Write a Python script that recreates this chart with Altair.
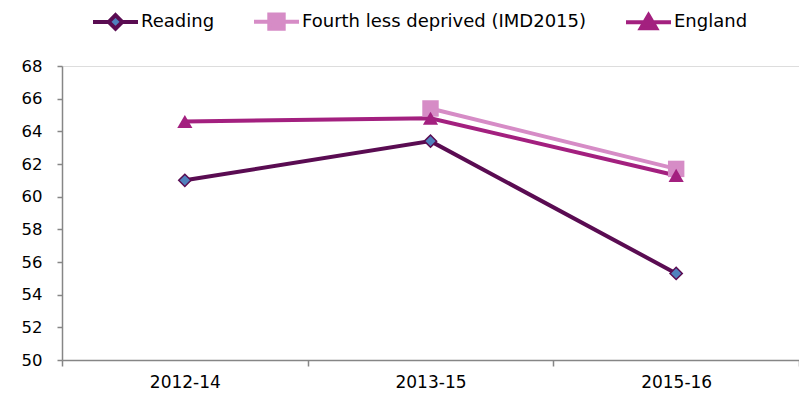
import altair as alt
import pandas as pd

periods = ["2012-14", "2013-15", "2015-16"]
series_names = ["Reading", "Fourth less deprived (IMD2015)", "England"]
reading = [61.0, 63.4, 55.3]
fourth = [None, 65.4, 61.7]
england = [64.6, 64.8, 61.3]
y_ticks = [50, 52, 54, 56, 58, 60, 62, 64, 66, 68]

line_colors = ["#5A0C52", "#D68CC6", "#A3207F"]
marker_fill = ["#4F81BD", "#D68CC6", "#A3207F"]
marker_shape = ["diamond", "square", "triangle-up"]
marker_size = [150, 270, 230]
marker_stroke_w = [1.5, 0, 0]

rows = []
for name, vals in zip(series_names, [reading, fourth, england]):
    for p, v in zip(periods, vals):
        if v is not None:
            rows.append({"Series": name, "Period": p, "Value": v})
df = pd.DataFrame(rows)

FONT = "DejaVu Sans"

x_enc = alt.X("Period:N", sort=periods, title=None,
              scale=alt.Scale(paddingInner=0, paddingOuter=0),
              axis=alt.Axis(labelAngle=0, tickBand="extent", tickSize=6, labelPadding=8,
                            labelFontSize=17, labelFont=FONT, labelColor="#000000",
                            domainColor="#868686", tickColor="#868686",
                            domainWidth=1.5, tickWidth=1.5, grid=False))
y_enc = alt.Y("Value:Q", title=None,
              scale=alt.Scale(domain=[50, 68], nice=False, zero=False),
              axis=alt.Axis(values=y_ticks, tickCount=10, tickSize=5, labelPadding=15,
                            labelOverlap=False, labelFontSize=16.5, labelFont=FONT,
                            labelColor="#000000",
                            domainColor="#868686", tickColor="#868686",
                            domainWidth=1.5, tickWidth=1.5, grid=False))

base = alt.Chart(df)

lines = base.mark_line(strokeWidth=4).encode(
    x=x_enc, y=y_enc,
    color=alt.Color("Series:N", scale=alt.Scale(domain=series_names, range=line_colors), legend=None),
    order=alt.Order("Period:N"),
)

point_layers = []
for i in [1, 2, 0]:
    name = series_names[i]
    pt = base.transform_filter(alt.datum.Series == name).mark_point(
        shape=marker_shape[i], size=marker_size[i], filled=True,
        fill=marker_fill[i], stroke=line_colors[i], strokeWidth=marker_stroke_w[i],
        opacity=1,
    ).encode(x=x_enc, y=y_enc)
    point_layers.append(pt)

legend_paths = [
    "M-1,0L-0.3,0M0.3,0L1,0M0,-0.3L0.3,0L0,0.3L-0.3,0Z",
    "M-1,0L1,0M-0.32,-0.32L0.32,-0.32L0.32,0.32L-0.32,0.32Z",
    "M-1,0L1,0M0,-0.32L0.34,0.26L-0.34,0.26Z",
]
leg = alt.Legend(title=None, orient="none", direction="horizontal",
                 legendX=29, legendY=-69, symbolSize=2025, symbolStrokeWidth=4,
                 labelFontSize=18, labelFont=FONT, labelColor="#000000", labelLimit=0,
                 labelOffset=1, columnPadding=31, padding=0, symbolOpacity=1)

legend_layer = base.transform_filter("false").mark_point(filled=True, opacity=1).encode(
    x=x_enc,
    y=y_enc,
    shape=alt.Shape("Series:N", scale=alt.Scale(domain=series_names, range=legend_paths), legend=leg),
    fill=alt.Fill("Series:N", scale=alt.Scale(domain=series_names, range=marker_fill), legend=leg),
    stroke=alt.Stroke("Series:N", scale=alt.Scale(domain=series_names, range=line_colors), legend=leg),
)

chart = alt.layer(lines, *point_layers, legend_layer).resolve_scale(
    shape="independent", fill="independent", stroke="independent", color="independent"
).properties(
    width=737, height=294,
    autosize=alt.AutoSizeParams(type="none"),
    padding={"left": 54, "top": 58, "right": 0, "bottom": 30},
).configure_view(stroke=None).configure_axisY(labelOverlap=False).configure(background="#FFFFFF")

chart.save("out.html", embed_options={"renderer": "svg", "actions": False})
